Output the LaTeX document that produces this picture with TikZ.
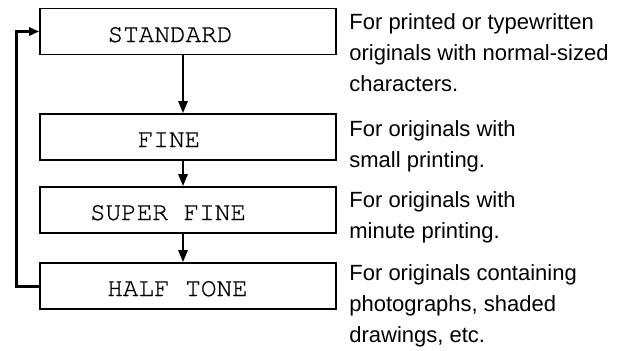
\documentclass[tikz,border=0pt]{standalone}
\usepackage{fontspec}
\setmainfont{Liberation Sans}
\newfontfamily\cursorfont[FakeBold=0.8]{TeX Gyre Cursor}
\usetikzlibrary{arrows.meta, positioning}

\begin{document}
\begin{tikzpicture}[x=0.5pt, y=-0.5pt,
		modebox/.style={draw, line width=0.8pt, minimum width=148pt, minimum height=23pt, inner sep=0pt},
		modetext/.style={anchor=base, inner sep=0pt, font=\cursorfont\fontsize{13}{13}\selectfont},
		note/.style={anchor=north west, align=left, inner sep=0pt, font=\fontsize{11}{15.5}\selectfont},
		flow/.style={-{Triangle[length=6pt, width=4.5pt]}, line width=1.25pt},
		backline/.style={-{Triangle[length=5pt, width=4pt]}, line width=1.5pt}]
		\useasboundingbox (0,0) rectangle (624,350);
		% Boxes and mode names:
		\node[modebox] (std) at (188,31.5){};
		\node[modebox] (fine) at (188,137){};
		\node[modebox] (sfine) at (188,210){};
		\node[modebox] (half) at (188,286){};
		\node[modetext] (stdtxt) at (170,42){STANDARD};
		\node[modetext] (finetxt) at (169,147){FINE};
		\node[modetext] (sfinetxt) at (168,220){SUPER FINE};
		\node[modetext] (halftxt) at (177.5,296){HALF TONE};
		% Arrows:
		\draw[flow] ([xshift=-2.5pt]std.south) -- ([xshift=-2.5pt]fine.north);
		\draw[flow] ([xshift=-2.5pt]fine.south) -- ([xshift=-2.5pt]sfine.north);
		\draw[flow] ([xshift=-2.5pt]sfine.south) -- ([xshift=-2.5pt]half.north);
		\draw[backline] (half.west) -- ++(-23,0) |- (std.west);
		% Notes:
		\node[note] (stdnote) at (349,13){For printed or typewritten\\originals with normal-sized\\characters.};
		\node[note] (finenote) at (349,120){For originals with\\small printing.};
		\node[note] (sfinenote) at (349,191){For originals with\\minute printing.};
		\node[note] (halfnote) at (349,264){For originals containing\\photographs, shaded\\drawings, etc.};
	\end{tikzpicture}
\end{document}
